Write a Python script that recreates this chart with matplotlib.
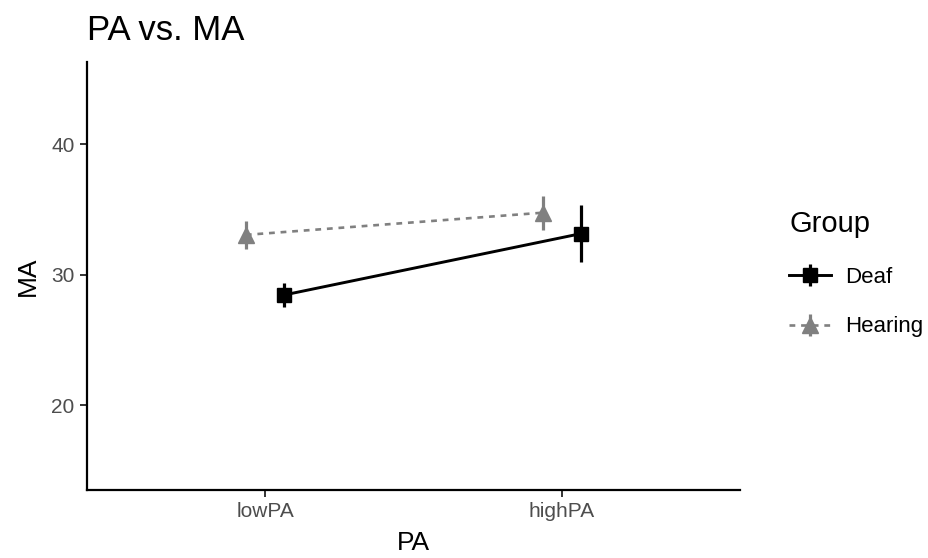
import matplotlib.pyplot as plt
import numpy as np

plt.rcParams['font.family'] = ['Liberation Sans', 'DejaVu Sans']

# values
categories = ['lowPA', 'highPA']
groups = ['Deaf', 'Hearing']
deaf_mean = [28.45, 33.15]
deaf_err = [0.9, 2.2]
hearing_mean = [33.05, 34.75]
hearing_err = [1.1, 1.3]

fig = plt.figure(figsize=(9.29, 5.58), dpi=100)
ax = fig.add_axes([0.0937, 0.1219, 0.7029, 0.767])

x = np.arange(1, len(categories) + 1)
dodge = 0.065

ax.errorbar(x - dodge, hearing_mean, yerr=hearing_err, color='#808080',
            linestyle=(0, (2.2, 2.2)), linewidth=1.9, elinewidth=2.3,
            marker='^', markersize=11, capsize=0, label='Hearing')
ax.errorbar(x + dodge, deaf_mean, yerr=deaf_err, color='black',
            linestyle='-', linewidth=2.1, elinewidth=2.3,
            marker='s', markersize=9.5, capsize=0, label='Deaf')

ax.set_xlim(0.4, 2.6)
ax.set_ylim(13.5, 46.3)
ax.set_xticks(x)
ax.set_xticklabels(categories)
ax.set_yticks([20, 30, 40])

for side in ['top', 'right']:
    ax.spines[side].set_visible(False)
for side in ['left', 'bottom']:
    ax.spines[side].set_linewidth(1.6)
ax.tick_params(axis='both', length=5, width=1.4, color='#333333',
               labelsize=15, labelcolor='#4D4D4D', pad=4)

ax.set_xlabel('PA', fontsize=19, labelpad=7)
ax.set_ylabel('MA', fontsize=19, labelpad=8)
ax.set_title('PA vs. MA', loc='left', fontsize=25, pad=16)

handles, labels = ax.get_legend_handles_labels()
leg = fig.legend(handles[::-1], labels[::-1], loc='upper left',
                 bbox_to_anchor=(0.828, 0.66), frameon=False,
                 title='Group', fontsize=16, title_fontsize=21,
                 handlelength=1.9, handletextpad=0.6, labelspacing=1.3,
                 alignment='left')

fig.savefig('out.png', dpi=100)
